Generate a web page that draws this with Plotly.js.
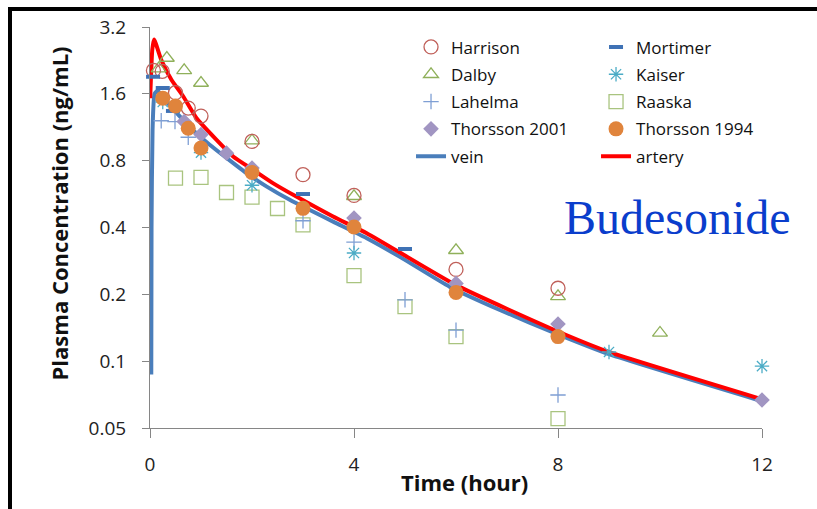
<!DOCTYPE html>
<html><head><meta charset="utf-8">
<script src="https://cdn.plot.ly/plotly-3.0.0.min.js"></script>
<style>
html,body{margin:0;padding:0;background:#fff;overflow:hidden;}
#chart{width:817px;height:509px;}
#frame{position:absolute;left:8px;top:7px;width:900px;height:700px;border:4px solid #000;pointer-events:none;}
</style></head><body>
<div id="chart"></div><div id="frame"></div>
<script>
// ---- data (time in hours, concentration in ng/mL) ----
const harrisonT = [0.067, 0.24, 0.5, 0.75, 1, 2, 3, 4, 6, 8];
const harrisonV = [2.04, 2.02, 1.62, 1.38, 1.27, 0.977, 0.692, 0.558, 0.259, 0.213];

const dalbyT = [0.17, 0.33, 0.67, 1, 2, 4, 6, 8, 10];
const dalbyV = [2.08, 2.32, 2.04, 1.79, 0.984, 0.553, 0.316, 0.196, 0.134];

const lahelmaT = [0.22, 0.49, 0.75, 3, 4, 5, 6, 8];
const lahelmaV = [1.21, 1.20, 1.02, 0.429, 0.344, 0.189, 0.138, 0.0704];

const thorsson2001T = [0.67, 1, 1.5, 2, 4, 6, 8, 12];
const thorsson2001V = [1.20, 1.05, 0.865, 0.741, 0.441, 0.224, 0.147, 0.0668];

const mortimerT = [0.06, 0.25, 0.45, 3, 5];
const mortimerV = [1.91, 1.70, 1.34, 0.566, 0.320];

const kaiserT = [0.25, 1, 2, 4, 9, 12];
const kaiserV = [1.47, 0.87, 0.62, 0.307, 0.110, 0.095];

const raaskaT = [0.5, 1, 1.5, 2, 2.5, 3, 4, 5, 6, 8];
const raaskaV = [0.668, 0.673, 0.575, 0.548, 0.487, 0.411, 0.243, 0.176, 0.129, 0.0551];

const thorsson1994T = [0.25, 0.5, 0.75, 1, 2, 3, 4, 6, 8];
const thorsson1994V = [1.53, 1.41, 1.12, 0.912, 0.708, 0.488, 0.402, 0.204, 0.129];

const veinT = [0.025, 0.03, 0.05, 0.09, 0.15, 0.32, 0.58, 0.84, 1.17, 1.5, 1.89, 2.29, 2.74, 3.59, 4.25, 4.9, 5.88, 6.86, 8.0, 9.0, 12];
const veinV = [0.087, 0.40, 1.10, 1.60, 1.65, 1.48, 1.27, 1.10, 0.944, 0.823, 0.703, 0.611, 0.533, 0.425, 0.358, 0.295, 0.216, 0.170, 0.132, 0.1075, 0.066];

const arteryT = [0.004, 0.045, 0.08, 0.22, 0.42, 0.65, 0.91, 1.3, 1.63, 2.02, 2.41, 2.87, 3.59, 4.25, 6.0, 8.0, 9.0, 12];
const arteryV = [1.53, 2.53, 2.81, 2.28, 1.85, 1.56, 1.245, 0.995, 0.836, 0.728, 0.634, 0.551, 0.448, 0.377, 0.220, 0.136, 0.110, 0.0673];

const xTicks = [0, 4, 8, 12];
const yTicks = [0.05, 0.1, 0.2, 0.4, 0.8, 1.6, 3.2];
const yTickText = ['0.05', '0.1', '0.2', '0.4', '0.8', '1.6', '3.2'];

// ---- styling ----
const FONT = '"Open Sans", Lato, sans-serif';

function pts(name, x, y, symbol, size, color, opts, legend, rank) {
  const filled = !symbol.endsWith('open');
  const marker = filled
    ? {symbol, size, color, line: {width: 0}}
    : {symbol, size, color, line: {color, width: (opts && opts.lw) || 1.3}};
  return {
    type: 'scatter', mode: 'markers', name, x, y, marker,
    cliponaxis: false, legend, legendrank: rank, legendgroup: name, hoverinfo: 'x+y+name'
  };
}

const traces = [
  {type: 'scatter', mode: 'lines', name: 'vein', x: veinT, y: veinV,
   line: {color: '#4A7EBB', width: 4, shape: 'spline', smoothing: 0.5},
   cliponaxis: false, legend: 'legend', legendrank: 5, legendgroup: 'vein'},
  {type: 'scatter', mode: 'lines', name: 'artery', x: arteryT, y: arteryV,
   line: {color: '#FF0000', width: 4, shape: 'spline', smoothing: 0.5},
   cliponaxis: false, legend: 'legend2', legendrank: 5, legendgroup: 'artery'},
  pts('Raaska', raaskaT, raaskaV, 'square-open', 14, '#A9C47F', null, 'legend2', 3),
  pts('Dalby', dalbyT, dalbyV, 'triangle-up-open', 13, '#8FB05A', null, 'legend', 2),
  pts('Harrison', harrisonT, harrisonV, 'circle-open', 14, '#C0605A', null, 'legend', 1),
  pts('Lahelma', lahelmaT, lahelmaV, 'cross-thin-open', 11, '#7F9FD4', null, 'legend', 3),
  pts('Kaiser', kaiserT, kaiserV, 'asterisk-open', 12, '#4BACC6', null, 'legend2', 2),
  pts('Mortimer', mortimerT, mortimerV, 'line-ew-open', 10, '#3F72B5', {lw: 4}, 'legend2', 1),
  pts('Thorsson 2001', thorsson2001T, thorsson2001V, 'diamond', 12, '#A195C2', null, 'legend', 4),
  pts('Thorsson 1994', thorsson1994T, thorsson1994V, 'circle', 15, '#E0843C', null, 'legend2', 4)
];

const legendBase = {
  orientation: 'v', xanchor: 'left', yanchor: 'top', y: 0.994,
  font: {family: FONT, size: 17, color: '#111'},
  bgcolor: 'rgba(0,0,0,0)', borderwidth: 0, tracegroupgap: 2.2, itemclick: false, itemdoubleclick: false
};

const layout = {
  width: 817, height: 509,
  margin: {l: 150, r: 55, t: 27, b: 81, pad: 0},
  paper_bgcolor: '#fff', plot_bgcolor: '#fff',
  font: {family: FONT, color: '#222'},
  showlegend: true,
  legend: Object.assign({}, legendBase, {x: 0.4265}),
  legend2: Object.assign({}, legendBase, {x: 0.7288}),
  xaxis: {
    range: [0, 12], tickvals: xTicks, ticktext: xTicks.map(String),
    showgrid: false, zeroline: false, showline: true, linecolor: '#868686', linewidth: 1,
    ticks: 'outside', ticklen: 9, tickcolor: '#868686', tickwidth: 1,
    tickfont: {family: FONT, size: 19, color: '#222'}, ticklabelstandoff: 10
  },
  yaxis: {
    type: 'log', range: [Math.log10(0.05), Math.log10(3.2)],
    tickvals: yTicks, ticktext: yTickText,
    showgrid: false, zeroline: false, showline: true, linecolor: '#868686', linewidth: 1,
    ticks: 'outside', ticklen: 7, tickcolor: '#868686', tickwidth: 1,
    tickfont: {family: FONT, size: 19, color: '#222'}, ticklabelstandoff: 12
  },
  annotations: [
    {text: 'Budesonide', xref: 'paper', yref: 'paper', x: 0.862, y: 0.526,
     xanchor: 'center', yanchor: 'middle', showarrow: false,
     font: {family: '"Liberation Serif", "Times New Roman", serif', size: 48, color: '#0A3DCC'}},
    {text: '<b>Plasma Concentration (ng/mL)</b>', xref: 'paper', yref: 'paper', x: -0.1487, y: 0.535,
     xanchor: 'center', yanchor: 'middle', textangle: -90, showarrow: false,
     font: {family: FONT, size: 22, color: '#111'}},
    {text: '<b>Time (hour)</b>', xref: 'paper', yref: 'paper', x: 0.5147, y: -0.134,
     xanchor: 'center', yanchor: 'middle', showarrow: false,
     font: {family: FONT, size: 22, color: '#111'}}
  ]
};

Plotly.newPlot('chart', traces, layout, {displayModeBar: false, staticPlot: true});
</script>
</body></html>
